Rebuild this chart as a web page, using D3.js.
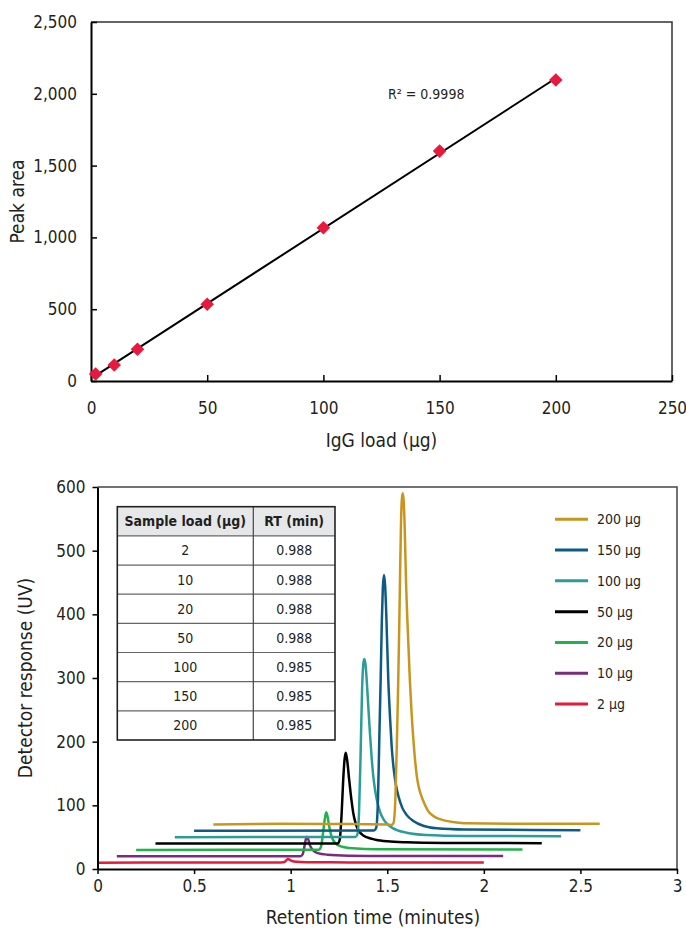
<!DOCTYPE html>
<html>
<head>
<meta charset="utf-8">
<script src="https://cdn.jsdelivr.net/npm/d3@7"></script>
<style>
  html, body { margin: 0; padding: 0; background: #fff; }
  svg { display: block; }
</style>
</head>
<body>
<svg id="chart" width="686" height="928"></svg>
<script>
// ---------- DATA ----------
// Calibration (top chart)
const igLoad = [2, 10, 20, 50, 100, 150, 200];
const peakArea = [49, 111, 221, 534, 1067, 1601, 2096];
const r2Label = "R² = 0.9998";
const topXTicks = [0, 50, 100, 150, 200, 250];
const topYTicks = [0, 500, 1000, 1500, 2000, 2500];

// Table
const tableHeader = ["Sample load (µg)", "RT (min)"];
const tableLoads = ["2", "10", "20", "50", "100", "150", "200"];
const tableRT = ["0.988", "0.988", "0.988", "0.988", "0.985", "0.985", "0.985"];

// Chromatograms (bottom chart), offset traces
const seriesNames = ["2 µg", "10 µg", "20 µg", "50 µg", "100 µg", "150 µg", "200 µg"];
const seriesColors = ["#e8193c", "#7b2b7f", "#22b24c", "#000000", "#2a9d9b", "#0d5a84", "#c8961f"];
const trace2 = [[0,10],[0.5,10.2],[0.95,10.3],[0.968,11],[0.978,13.8],[0.986,15.7],[0.994,14.6],[1.005,12.8],[1.03,11.3],[1.08,10.7],[1.3,10.4],[2.0,10.3]];
const trace10 = [[0.1,20],[1.05,20.2],[1.062,23],[1.071,35],[1.078,46],[1.084,50.8],[1.091,46.5],[1.1,37],[1.115,29.5],[1.14,25],[1.19,22.5],[1.3,21],[1.5,20.4],[2.1,20.3]];
const trace20 = [[0.2,30],[1.145,30.2],[1.157,35],[1.167,55],[1.176,77],[1.184,89],[1.192,81],[1.2,66],[1.212,51],[1.23,41],[1.26,35.5],[1.32,32.5],[1.45,31],[2.2,30.5]];
const trace50 = [[0.3,40],[1.244,40.2],[1.254,46],[1.264,88],[1.272,140],[1.279,172],[1.285,182.7],[1.292,172],[1.303,140],[1.314,110],[1.324,88],[1.336,72],[1.35,61],[1.37,54],[1.393,50],[1.44,46],[1.5,43.5],[1.6,42],[1.8,41],[2.3,40.5]];
const trace100 = [[0.4,50],[1.335,50.3],[1.345,54],[1.354,90],[1.362,180],[1.37,285],[1.376,322],[1.381,330],[1.387,322],[1.393,300],[1.4,265],[1.41,215],[1.42,172],[1.428,145],[1.437,124],[1.448,106],[1.462,90],[1.485,76],[1.514,67],[1.55,61],[1.6,57],[1.7,53.5],[1.9,52],[2.4,51.5]];
const trace150 = [[0.5,60],[1.43,60.3],[1.443,65],[1.452,110],[1.46,220],[1.466,300],[1.472,390],[1.477,440],[1.483,461.8],[1.489,445],[1.495,400],[1.505,300],[1.515,235],[1.523,192],[1.533,158],[1.545,132],[1.56,112],[1.578,96],[1.6,85],[1.635,75.5],[1.686,68],[1.756,64],[1.9,62],[2.5,61]];
const trace200 = [[0.6,70],[0.95,71],[1.3,70.5],[1.5,70],[1.52,69],[1.532,72],[1.542,110],[1.55,200],[1.557,297],[1.562,380],[1.566,454],[1.571,540],[1.575,578],[1.58,590],[1.585,578],[1.59,540],[1.597,454],[1.607,370],[1.617,297],[1.626,245],[1.636,200],[1.645,168],[1.653,146],[1.662,130],[1.675,116],[1.692,103],[1.712,91],[1.735,84],[1.765,79],[1.8,76],[1.85,73.5],[1.911,71.8],[2.2,71],[2.6,71]];
const traces = [trace2, trace10, trace20, trace50, trace100, trace150, trace200];
const botXTicks = [0, 0.5, 1, 1.5, 2, 2.5, 3];
const botYTicks = [0, 100, 200, 300, 400, 500, 600];

// ---------- DRAW ----------
const FONT = '"Liberation Sans Narrow", "DejaVu Sans Condensed", "Arial Narrow", sans-serif';
const TXT = "#231f20";
const svg = d3.select("#chart").style("font-family", FONT);

// ===== Top chart =====
const tL = 91, tR = 672, tT = 22, tB = 381;
const xT = d3.scaleLinear().domain([0, 250]).range([tL, tR]);
const yT = d3.scaleLinear().domain([0, 2500]).range([tB, tT]);

// frame (top + right)
svg.append("path")
  .attr("d", `M${tL},${tT}H${tR}V${tB}`)
  .attr("fill", "none").attr("stroke", "#333").attr("stroke-width", 1.5);

const gxT = svg.append("g").attr("transform", `translate(0,${tB})`)
  .call(d3.axisBottom(xT).tickValues(topXTicks).tickSizeInner(-6).tickSizeOuter(0).tickPadding(21).tickFormat(d3.format("d")));
const gyT = svg.append("g").attr("transform", `translate(${tL},0)`)
  .call(d3.axisLeft(yT).tickValues(topYTicks).tickSizeInner(-6).tickSizeOuter(0).tickPadding(14).tickFormat(d3.format(",")));
[gxT, gyT].forEach(g => {
  g.select(".domain").attr("stroke", "#000").attr("stroke-width", 2);
  g.selectAll(".tick line").attr("stroke", "#000").attr("stroke-width", 1.5);
  g.selectAll(".tick text").attr("fill", TXT).style("font-size", "17px").style("font-family", FONT);
});

// trendline (least squares over the data)
const mx = d3.mean(igLoad), my = d3.mean(peakArea);
const slope = d3.sum(igLoad.map((x, i) => (x - mx) * (peakArea[i] - my))) / d3.sum(igLoad.map(x => (x - mx) ** 2));
const icpt = my - slope * mx;
const xExt = d3.extent(igLoad);
svg.append("line")
  .attr("x1", xT(xExt[0])).attr("y1", yT(icpt + slope * xExt[0]))
  .attr("x2", xT(xExt[1])).attr("y2", yT(icpt + slope * xExt[1]))
  .attr("stroke", "#000").attr("stroke-width", 2);

// markers (diamonds)
svg.append("g").selectAll("path").data(igLoad).join("path")
  .attr("d", d3.symbol(d3.symbolSquare, 92)())
  .attr("transform", (d, i) => `translate(${xT(d)},${yT(peakArea[i])}) rotate(45)`)
  .attr("fill", "#e8193c");

svg.append("text").attr("x", 388).attr("y", 99).attr("fill", TXT)
  .style("font-size", "14px").text(r2Label);

svg.append("text").attr("x", (tL + tR) / 2).attr("y", 447).attr("text-anchor", "middle")
  .attr("fill", TXT).style("font-size", "19px").text("IgG load (µg)");
svg.append("text").attr("transform", `translate(24,${(tT + tB) / 2}) rotate(-90)`)
  .attr("text-anchor", "middle").attr("fill", TXT).style("font-size", "19px").text("Peak area");

// ===== Bottom chart =====
const bL = 97.5, bR = 677, bT = 487, bB = 869;
const xB = d3.scaleLinear().domain([0, 3]).range([bL, bR]);
const yB = d3.scaleLinear().domain([0, 600]).range([bB, bT]);

svg.append("path")
  .attr("d", `M${bL},${bT}H${bR}V${bB}`)
  .attr("fill", "none").attr("stroke", "#444").attr("stroke-width", 1.5);

const line = d3.line().x(d => xB(d[0])).y(d => yB(d[1])).curve(d3.curveMonotoneX);
svg.append("g").selectAll("path").data(traces).join("path")
  .attr("d", line).attr("fill", "none")
  .attr("stroke", (d, i) => seriesColors[i]).attr("stroke-width", 2.5)
  .attr("stroke-linejoin", "round");

const gxB = svg.append("g").attr("transform", `translate(0,${bB})`)
  .call(d3.axisBottom(xB).tickValues(botXTicks).tickSizeInner(5).tickSizeOuter(0).tickPadding(6).tickFormat(d => String(d)));
const gyB = svg.append("g").attr("transform", `translate(${bL},0)`)
  .call(d3.axisLeft(yB).tickValues(botYTicks).tickSizeInner(5).tickSizeOuter(0).tickPadding(7).tickFormat(d3.format("d")));
[gxB, gyB].forEach(g => {
  g.select(".domain").attr("stroke", "#000").attr("stroke-width", 2);
  g.selectAll(".tick line").attr("stroke", "#000").attr("stroke-width", 1.5);
  g.selectAll(".tick text").attr("fill", TXT).style("font-size", "17px").style("font-family", FONT);
});

svg.append("text").attr("x", 373).attr("y", 924).attr("text-anchor", "middle")
  .attr("fill", TXT).style("font-size", "19px").text("Retention time (minutes)");
svg.append("text").attr("transform", `translate(32,${(bT + bB) / 2}) rotate(-90)`)
  .attr("text-anchor", "middle").attr("fill", TXT).style("font-size", "19px").text("Detector response (UV)");

// Table
const tbL = 117.3, tbR = 335, tbT = 506.7, tbB = 740, tbMid = 253.3;
const rows = [tableHeader].concat(tableLoads.map((d, i) => [d, tableRT[i]]));
const rowY = d3.scaleBand().domain(d3.range(rows.length)).range([tbT, tbB]);
const tbl = svg.append("g");
tbl.append("rect").attr("x", tbL).attr("y", tbT).attr("width", tbR - tbL).attr("height", tbB - tbT).attr("fill", "#fff");
tbl.append("rect").attr("x", tbL).attr("y", tbT).attr("width", tbR - tbL).attr("height", rowY.bandwidth()).attr("fill", "#e6e7e8");
tbl.selectAll("line.h").data(d3.range(1, rows.length)).join("line")
  .attr("x1", tbL).attr("x2", tbR).attr("y1", d => rowY(d)).attr("y2", d => rowY(d))
  .attr("stroke", "#666").attr("stroke-width", 1.2);
tbl.append("line").attr("x1", tbMid).attr("x2", tbMid).attr("y1", tbT).attr("y2", tbB)
  .attr("stroke", "#444").attr("stroke-width", 1.2);
tbl.append("rect").attr("x", tbL).attr("y", tbT).attr("width", tbR - tbL).attr("height", tbB - tbT)
  .attr("fill", "none").attr("stroke", "#222").attr("stroke-width", 1.6);
const colX = [(tbL + tbMid) / 2, (tbMid + tbR) / 2];
rows.forEach((r, i) => {
  r.forEach((c, j) => {
    tbl.append("text").attr("x", colX[j]).attr("y", rowY(i) + rowY.bandwidth() / 2)
      .attr("dy", "0.36em").attr("text-anchor", "middle").attr("fill", TXT)
      .style("font-size", "14px").style("font-weight", i === 0 ? "bold" : "normal").text(c);
  });
});

// Legend
const legOrder = d3.range(seriesNames.length).reverse();
const legY = d3.scalePoint().domain(legOrder).range([519.3, 704]);
const leg = svg.append("g");
legOrder.forEach(i => {
  leg.append("line").attr("x1", 555).attr("x2", 588).attr("y1", legY(i)).attr("y2", legY(i))
    .attr("stroke", seriesColors[i]).attr("stroke-width", 3);
  leg.append("text").attr("x", 597).attr("y", legY(i)).attr("dy", "0.36em").attr("fill", TXT)
    .style("font-size", "14px").text(seriesNames[i]);
});
</script>
</body>
</html>
